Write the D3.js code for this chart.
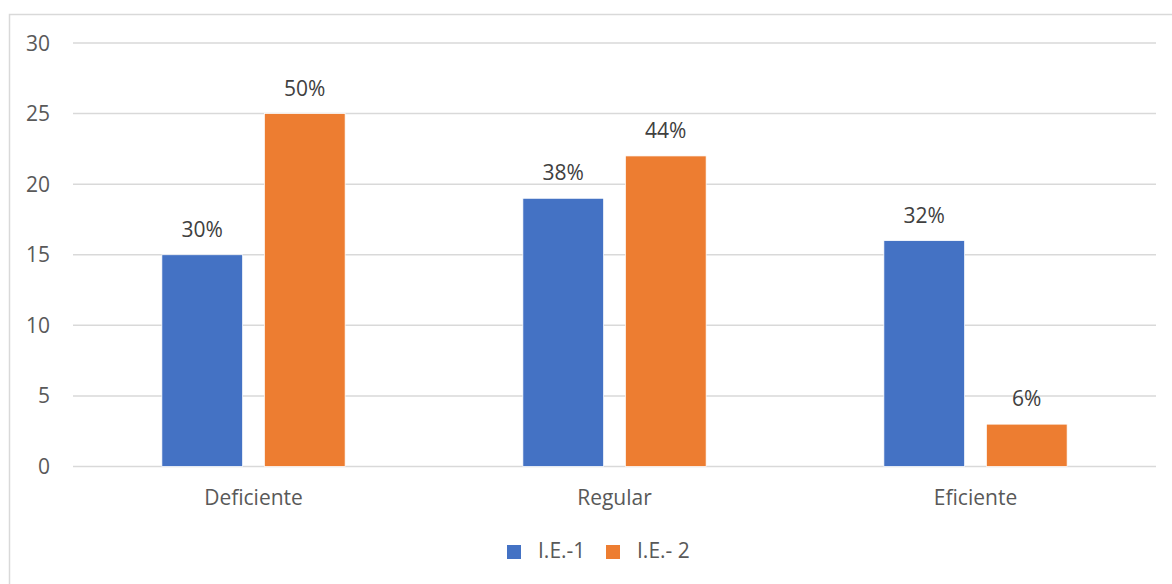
<!DOCTYPE html>
<html>
<head>
<meta charset="utf-8">
<script src="https://cdn.jsdelivr.net/npm/d3@7"></script>
<style>
  body { margin: 0; background: #fff; }
  text { font-family: "Open Sans", sans-serif; fill: #595959; }
</style>
</head>
<body>
<script>
const categories = ["Deficiente", "Regular", "Eficiente"];
const seriesNames = ["I.E.-1", "I.E.- 2"];
const ie1Values = [15, 19, 16];
const ie2Values = [25, 22, 3];
const ie1Labels = ["30%", "38%", "32%"];
const ie2Labels = ["50%", "44%", "6%"];
const yTicks = [0, 5, 10, 15, 20, 25, 30];

const colors = ["#4472C4", "#ED7D31"];

const svgWidth = 1172, svgHeight = 584;
const plot = { left: 73, right: 1156, top: 43, bottom: 466.5 };
const fontSize = 21;

const svg = d3.select("body").append("svg")
    .attr("width", svgWidth)
    .attr("height", svgHeight);

// chart frame (runs off the right and bottom edges)
svg.append("rect")
    .attr("x", 9.5).attr("y", 14.5)
    .attr("width", 1200).attr("height", 600)
    .attr("fill", "none")
    .attr("stroke", "#D9D9D9")
    .attr("stroke-width", 1.5);

const rows = categories.map((c, i) => ({
    cat: c,
    vals: [
        { s: 0, v: ie1Values[i], label: ie1Labels[i] },
        { s: 1, v: ie2Values[i], label: ie2Labels[i] }
    ]
}));

const x0 = d3.scaleBand()
    .domain(categories)
    .range([plot.left, plot.right]);

const x1 = d3.scaleBand()
    .domain([0, 1])
    .range([0, x0.bandwidth()])
    .paddingInner(0.212)
    .paddingOuter(0.867);

const y = d3.scaleLinear()
    .domain([0, 30])
    .range([plot.bottom, plot.top]);

// gridlines
svg.append("g")
    .selectAll("line")
    .data(yTicks)
    .enter().append("line")
    .attr("x1", plot.left).attr("x2", plot.right)
    .attr("y1", d => y(d)).attr("y2", d => y(d))
    .attr("stroke", "#D9D9D9")
    .attr("stroke-width", 1.5);

// y tick labels
svg.append("g")
    .selectAll("text")
    .data(yTicks)
    .enter().append("text")
    .attr("x", 50)
    .attr("y", d => y(d))
    .attr("dy", "0.36em")
    .attr("text-anchor", "end")
    .attr("font-size", fontSize)
    .text(d => d);

const groups = svg.append("g")
    .selectAll("g")
    .data(rows)
    .enter().append("g")
    .attr("transform", d => `translate(${x0(d.cat)},0)`);

groups.selectAll("rect")
    .data(d => d.vals)
    .enter().append("rect")
    .attr("x", d => x1(d.s))
    .attr("width", x1.bandwidth())
    .attr("y", d => y(d.v))
    .attr("height", d => y(0) - y(d.v))
    .attr("fill", d => colors[d.s])
    .attr("stroke", "#fff")
    .attr("stroke-width", 0.75);

groups.selectAll("text")
    .data(d => d.vals)
    .enter().append("text")
    .attr("x", d => x1(d.s) + x1.bandwidth() / 2)
    .attr("y", d => y(d.v) - 18)
    .attr("text-anchor", "middle")
    .attr("font-size", fontSize)
    .style("fill", "#404040")
    .text(d => d.label);

// category labels
svg.append("g")
    .selectAll("text")
    .data(categories)
    .enter().append("text")
    .attr("x", d => x0(d) + x0.bandwidth() / 2)
    .attr("y", 505)
    .attr("text-anchor", "middle")
    .attr("font-size", fontSize)
    .text(d => d);

// legend
const legendX = [507, 606];
const legend = svg.append("g")
    .selectAll("g")
    .data(seriesNames)
    .enter().append("g")
    .attr("transform", (d, i) => `translate(${legendX[i]},545)`);

legend.append("rect")
    .attr("width", 14).attr("height", 14)
    .attr("fill", (d, i) => colors[i]);

legend.append("text")
    .attr("x", 31)
    .attr("y", 13)
    .attr("font-size", fontSize)
    .text(d => d);
</script>
</body>
</html>
